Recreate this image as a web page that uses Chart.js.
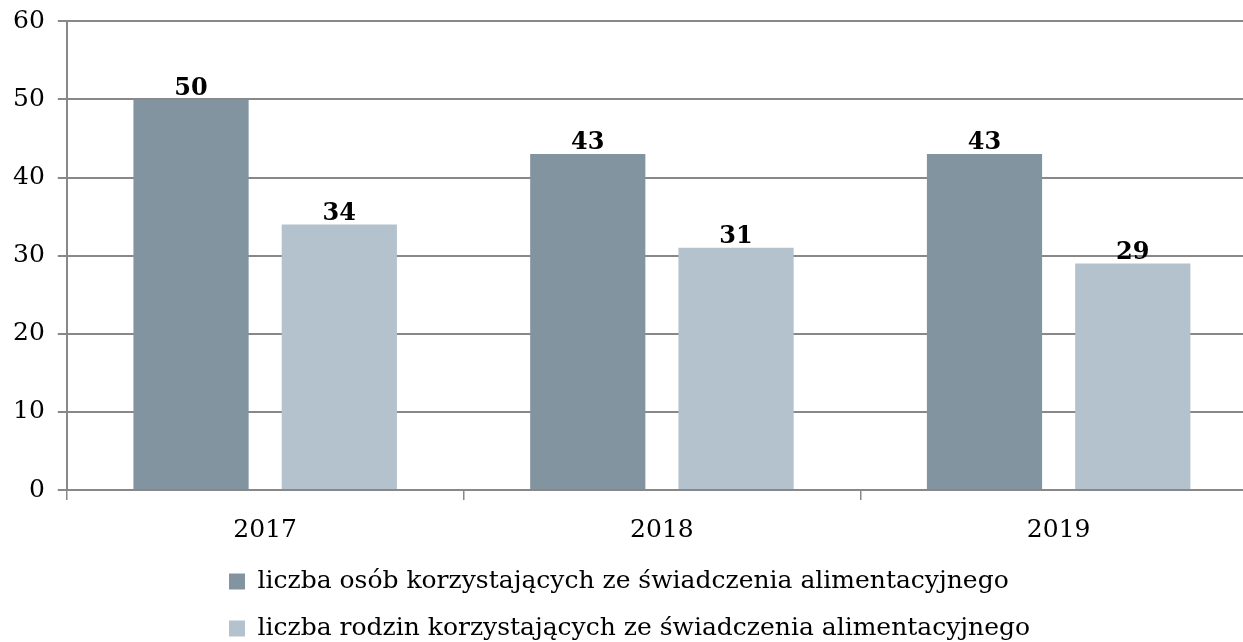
<!DOCTYPE html>
<html>
<head>
<meta charset="utf-8">
<script src="https://cdn.jsdelivr.net/npm/chart.js@4/dist/chart.umd.min.js"></script>
<style>
  html, body { margin: 0; padding: 0; background: #fff; overflow: hidden; }
  #wrap { width: 1257px; height: 651px; }
</style>
</head>
<body>
<div id="wrap"><canvas id="chart"></canvas></div>
<script>
const years = ['2017', '2018', '2019'];
const persons = [50, 43, 43];
const families = [34, 31, 29];
const seriesNames = [
  'liczba osób korzystających ze świadczenia alimentacyjnego',
  'liczba rodzin korzystających ze świadczenia alimentacyjnego',
];
const yTicks = [0, 10, 20, 30, 40, 50, 60];

const FONT = "'DejaVu Serif', serif";
const LEGEND_LEFT = 207;

// value labels above each bar
const barLabels = {
  id: 'barLabels',
  afterDatasetsDraw(chart) {
    const ctx = chart.ctx;
    ctx.save();
    ctx.font = 'bold 24px ' + FONT;
    ctx.fillStyle = '#000';
    ctx.textAlign = 'center';
    ctx.textBaseline = 'bottom';
    chart.data.datasets.forEach((ds, i) => {
      chart.getDatasetMeta(i).data.forEach((bar, j) => {
        ctx.fillText(ds.data[j], bar.x, bar.y + 1);
      });
    });
    ctx.restore();
  },
};

// legend rows start at the same x, like the original block
const legendShift = {
  id: 'legendShift',
  beforeDraw(chart) {
    if (chart.legend) chart.legend.left = LEGEND_LEFT;
  },
};

new Chart(document.getElementById('chart'), {
  type: 'bar',
  data: {
    labels: years,
    datasets: [
      { label: seriesNames[0], data: persons, backgroundColor: '#8394a1' },
      { label: seriesNames[1], data: families, backgroundColor: '#b4c2cd' },
    ],
  },
  options: {
    responsive: true,
    maintainAspectRatio: false,
    animation: false,
    categoryPercentage: 0.7475,
    barPercentage: 0.777,
    layout: { padding: { top: 2, left: 0, right: 0, bottom: 0 } },
    scales: {
      x: {
        afterFit(scale) {
          scale.height -= 13;
        },
        grid: {
          display: true,
          drawOnChartArea: false,
          color: '#888',
          lineWidth: 1.5,
          tickLength: 10,
        },
        border: { color: '#888', width: 2 },
        ticks: {
          color: '#000',
          font: { family: FONT, size: 25, lineHeight: 0.08 },
          padding: 29,
        },
      },
      y: {
        min: 0,
        max: 60,
        afterBuildTicks(axis) {
          axis.ticks = yTicks.map((v) => ({ value: v }));
        },
        grid: { color: '#888', lineWidth: 2, tickLength: 9 },
        border: { color: '#888', width: 2 },
        ticks: {
          color: '#000',
          font: { family: FONT, size: 25, lineHeight: 0.66 },
          padding: 13,
        },
      },
    },
    plugins: {
      legend: {
        position: 'bottom',
        align: 'start',
        labels: {
          color: '#000',
          font: { family: FONT, size: 25 },
          boxWidth: 16,
          boxHeight: 16,
          padding: 22,
        },
      },
      tooltip: { enabled: false },
    },
  },
  plugins: [barLabels, legendShift],
});
</script>
</body>
</html>
